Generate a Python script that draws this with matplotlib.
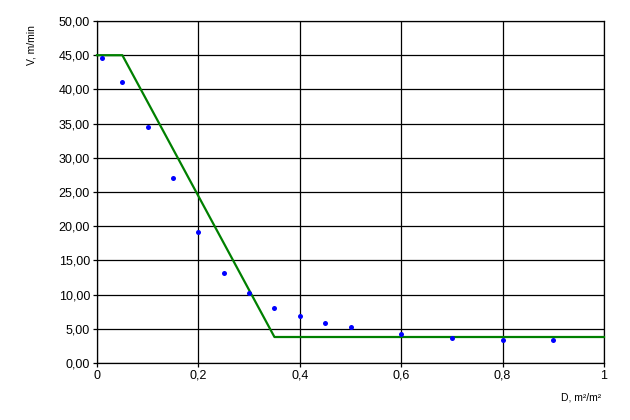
import matplotlib
matplotlib.use("Agg")
import matplotlib.pyplot as plt
from matplotlib.ticker import FuncFormatter, MultipleLocator

# Measured points
d_points = [0.01, 0.05, 0.10, 0.15, 0.20, 0.25, 0.30, 0.35, 0.40, 0.45, 0.50, 0.60, 0.70, 0.80, 0.90]
v_points = [44.6, 41.1, 34.5, 27.1, 19.2, 13.2, 10.2, 8.1, 6.9, 5.9, 5.3, 4.25, 3.6, 3.4, 3.4]

# Model line
d_line = [0.0, 0.05, 0.35, 1.0]
v_line = [45.0, 45.0, 3.8, 3.8]

x_label = "D, m²/m²"
y_label = "V, m/min"

plt.rcParams['font.family'] = ['Liberation Sans', 'DejaVu Sans']

fig = plt.figure(figsize=(6.3, 4.2), dpi=100)
ax = fig.add_axes([97/630, 1 - 363/420, (604-97)/630, (363-21)/420])

ax.plot(d_line, v_line, color='#008000', lw=1.6, zorder=3, clip_on=False)
ax.plot(d_points, v_points, 'o', color='#0000ff', ms=3.6, mec='none', zorder=4, clip_on=False)

ax.set_xlim(0, 1)
ax.set_ylim(0, 50)
ax.xaxis.set_major_locator(MultipleLocator(0.2))
ax.yaxis.set_major_locator(MultipleLocator(5))

def fx(v, p):
    s = ('%.1f' % v).rstrip('0').rstrip('.')
    return s.replace('.', ',')

ax.xaxis.set_major_formatter(FuncFormatter(fx))
ax.yaxis.set_major_formatter(FuncFormatter(lambda v, p: ('%.2f' % v).replace('.', ',')))

ax.grid(True, color='black', lw=0.9)
ax.set_axisbelow(True)
for s in ax.spines.values():
    s.set_color('black')
    s.set_linewidth(0.9)
ax.tick_params(axis='both', labelsize=9, length=3, width=0.9, colors='black', pad=2)

fig.text(32/630, 1 - 45/420, y_label, rotation=90, ha='center', va='center', fontsize=7.5)
fig.text(581/630, 1 - 397/420, x_label, ha='center', va='center', fontsize=7.5)

fig.savefig('out.png', dpi=100)
